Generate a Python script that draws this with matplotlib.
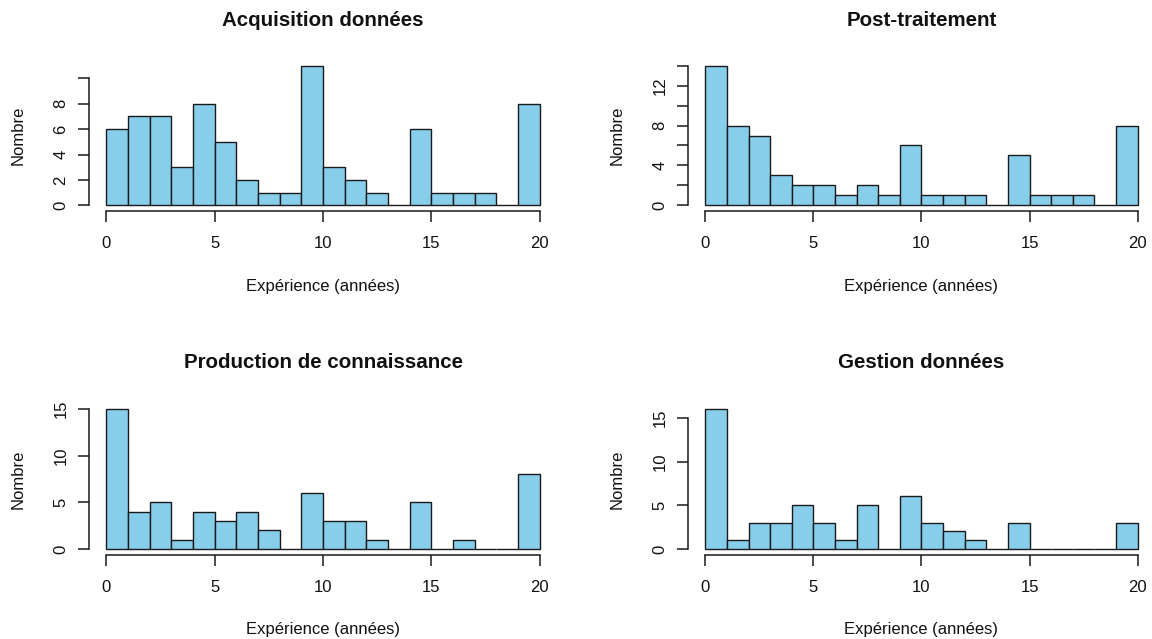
import matplotlib
matplotlib.use("Agg")
import matplotlib.pyplot as plt

# ---- data ----
bin_left = list(range(0, 20))          # bins of width 1 from 0 to 20
x_ticks = [0, 5, 10, 15, 20]
titles = ["Acquisition données", "Post-traitement",
          "Production de connaissance", "Gestion données"]
acquisition = [6, 7, 7, 3, 8, 5, 2, 1, 1, 11, 3, 2, 1, 0, 6, 1, 1, 1, 0, 8]
post_traitement = [14, 8, 7, 3, 2, 2, 1, 2, 1, 6, 1, 1, 1, 0, 5, 1, 1, 1, 0, 8]
production = [15, 4, 5, 1, 4, 3, 4, 2, 0, 6, 3, 3, 1, 0, 5, 0, 1, 0, 0, 8]
gestion = [16, 1, 3, 3, 5, 3, 1, 5, 0, 6, 3, 2, 1, 0, 3, 0, 0, 0, 0, 3]
y_ticks = [[0, 2, 4, 6, 8, 10], [0, 2, 4, 6, 8, 10, 12, 14],
           [0, 5, 10, 15], [0, 5, 10, 15]]
y_ticklabels = [["0", "2", "4", "6", "8", ""],
                ["0", "", "4", "", "8", "", "12", ""],
                ["0", "5", "10", "15"], ["0", "5", "10", "15"]]
xlabel = "Expérience (années)"
ylabel = "Nombre"

series = [acquisition, post_traitement, production, gestion]

plt.rcParams["font.family"] = ["Liberation Sans", "DejaVu Sans"]

W, H = 1152, 639
fig = plt.figure(figsize=(W / 100, H / 100), dpi=100)

# axes rectangles in pixel coords (left, right, top, bottom)
rects = [(89, 557, 60, 211), (688, 1155, 60, 211),
         (89, 557, 403.5, 554.5), (688, 1155, 403.5, 554.5)]


def fx(x):
    return x / W


def fy(y):
    return 1 - y / H


for i, (counts, (l, r, t, b)) in enumerate(zip(series, rects)):
    ax = fig.add_axes([fx(l), fy(b), (r - l) / W, (b - t) / H])
    ax.bar(bin_left, counts, width=1, align="edge", color="#87CEEB",
           edgecolor="#1a1a1a", linewidth=1.0)
    ymax = max(counts)
    ax.set_xlim(-0.8, 20.8)
    ax.set_ylim(-0.04 * ymax, 1.04 * ymax)
    for s in ["top", "right"]:
        ax.spines[s].set_visible(False)
    for s in ["left", "bottom"]:
        ax.spines[s].set_linewidth(1.1)
        ax.spines[s].set_color("#1a1a1a")
    ax.spines["bottom"].set_bounds(0, 20)
    ax.spines["left"].set_bounds(0, y_ticks[i][-1])
    ax.set_xticks(x_ticks)
    ax.set_xticklabels([str(v) for v in x_ticks])
    ax.set_yticks(y_ticks[i])
    ax.set_yticklabels(y_ticklabels[i], rotation=90, va="center")
    ax.tick_params(axis="both", length=7.7, width=1.1, color="#1a1a1a",
                   labelsize=12, labelcolor="#111111")
    ax.tick_params(axis="x", pad=10.5)
    ax.tick_params(axis="y", pad=7)
    ax.patch.set_visible(False)

    cx = (l + r) / 2
    cy = (t + b) / 2
    title_y = 21 if i < 2 else 362
    xlab_y = 286 if i < 2 else 629.5
    fig.text(fx(cx), fy(title_y), titles[i], ha="center", va="center",
             fontsize=14.8, fontweight="bold", color="#111111")
    fig.text(fx(cx), fy(xlab_y), xlabel, ha="center", va="center",
             fontsize=12, color="#111111")
    fig.text(fx(l - 71), fy(cy), ylabel, ha="center", va="center",
             rotation=90, fontsize=12, color="#111111")

fig.savefig("out.png", dpi=100)
